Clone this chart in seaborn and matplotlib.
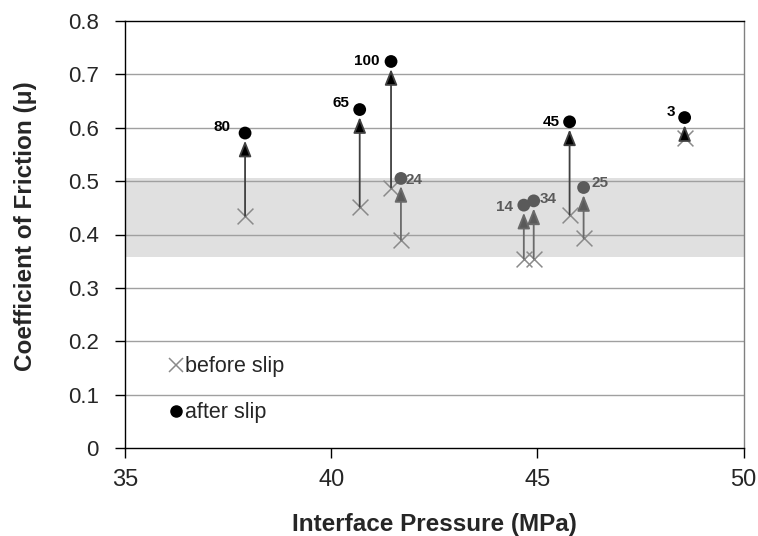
import numpy as np
import pandas as pd
import matplotlib.pyplot as plt
import seaborn as sns
from matplotlib.lines import Line2D

# values
pressure = [37.91, 40.69, 41.45, 41.69, 44.67, 44.91, 45.78, 46.12, 48.57]
mu_before = [0.435, 0.452, 0.488, 0.390, 0.355, 0.355, 0.437, 0.393, 0.580]
mu_after = [0.590, 0.634, 0.724, 0.505, 0.455, 0.463, 0.611, 0.488, 0.619]
labels = ['80', '65', '100', '24', '14', '34', '45', '25', '3']
group = ['dark', 'dark', 'dark', 'grey', 'grey', 'grey', 'dark', 'grey', 'dark']
band = (0.358, 0.506)

df = pd.DataFrame({'Pressure': pressure, 'Before': mu_before, 'After': mu_after,
                   'Label': labels, 'Group': group})
colors = {'dark': 'black', 'grey': '#5a5a5a'}

sns.set_theme(style='white')
plt.rcParams['font.family'] = ['Liberation Sans', 'DejaVu Sans']

fig, ax = plt.subplots(figsize=(7.58, 5.36), dpi=100)
fig.subplots_adjust(left=0.165, right=0.981, bottom=0.164, top=0.961)

# shaded band and grid
ax.axhspan(band[0], band[1], color='#e0e0e0', zorder=0, lw=0)
for yv in np.arange(0.1, 0.8, 0.1):
    ax.axhline(yv, color='#a0a0a0', lw=1, zorder=1)

# arrows from before to after
for _, r in df.iterrows():
    c = colors[r['Group']]
    shaft = '#404040' if r['Group'] == 'dark' else '#6a6a6a'
    ax.annotate('', xy=(r['Pressure'], r['After']), xytext=(r['Pressure'], r['Before']),
                arrowprops=dict(arrowstyle='-|>,head_length=0.8,head_width=0.32',
                                color=c, ec=shaft, fc=c, lw=1.3, shrinkA=0, shrinkB=5.5),
                zorder=3)

sns.scatterplot(data=df, x='Pressure', y='Before', marker='x', color='#8a8a8a',
                s=130, linewidth=1.1, ax=ax, zorder=2, legend=False)
sns.scatterplot(data=df, x='Pressure', y='After', hue='Group', palette=colors,
                s=85, edgecolor='none', ax=ax, zorder=4, legend=False)

# value labels
offsets = {'80': (-0.55, 0.012), '65': (-0.45, 0.012), '100': (-0.6, 0.0),
           '24': (0.12, -0.003), '14': (-0.47, -0.003), '34': (0.15, 0.003),
           '45': (-0.45, 0.0), '25': (0.2, 0.008), '3': (-0.32, 0.01)}
for _, r in df.iterrows():
    dx, dy = offsets[r['Label']]
    ax.text(r['Pressure'] + dx, r['After'] + dy, r['Label'], ha='left' if dx > 0 else 'center',
            va='center', fontsize=11, fontweight='bold', color=colors[r['Group']], zorder=5)

ax.set_xlim(35, 50)
ax.set_ylim(0, 0.8)
ax.set_xticks([35, 40, 45, 50])
ax.set_yticks(np.round(np.arange(0, 0.81, 0.1), 1))
ax.set_yticklabels(['0'] + [f'{v:.1f}' for v in np.arange(0.1, 0.81, 0.1)])
ax.tick_params(axis='both', direction='out', length=7, width=1,
               color='black', left=True, bottom=True)
ax.tick_params(axis='y', labelsize=16, pad=12)
ax.tick_params(axis='x', labelsize=17, pad=8)
ax.set_xlabel('Interface Pressure (MPa)', fontsize=17.5, fontweight='bold')
ax.set_ylabel('Coefficient of Friction (\u03bc)', fontsize=17.5, fontweight='bold')
ax.xaxis.set_label_coords(0.5, -0.152)
ax.yaxis.set_label_coords(-0.142, 0.52)

for side in ['left', 'bottom', 'top']:
    ax.spines[side].set_color('black')
    ax.spines[side].set_linewidth(1)
ax.spines['right'].set_color('#808080')
ax.spines['right'].set_linewidth(1)

handles = [Line2D([], [], marker='x', color='#8a8a8a', ls='none', markersize=10, mew=1.1),
           Line2D([], [], marker='o', color='black', ls='none', markersize=8)]
ax.legend(handles, ['before slip', 'after slip'], loc='lower left',
          bbox_to_anchor=(0.04, 0.013), frameon=False, fontsize=15.5,
          handlelength=0.6, handletextpad=0.15, labelspacing=1.15)

fig.savefig('out.png', dpi=100)
